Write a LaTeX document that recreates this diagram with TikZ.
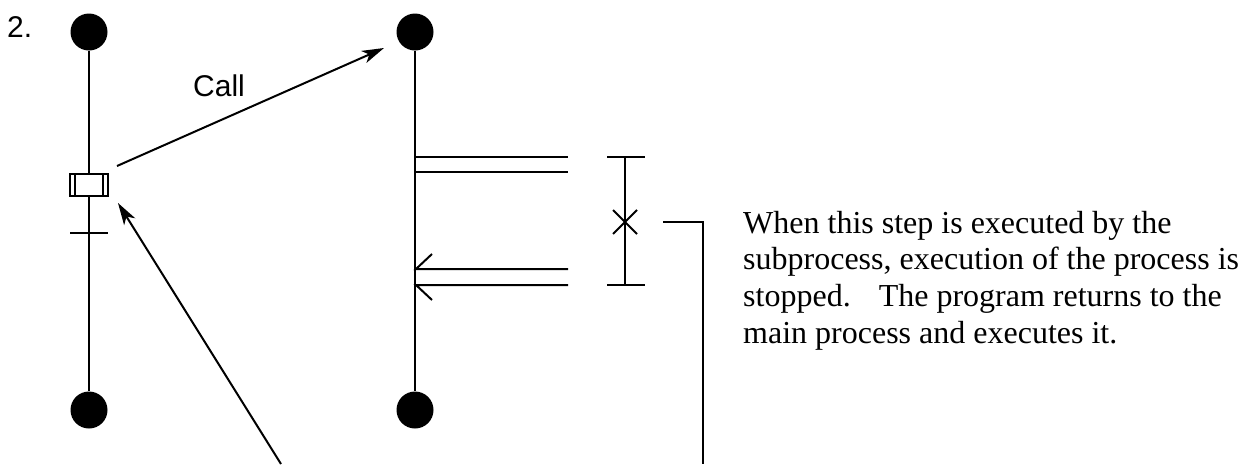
\documentclass[tikz,border=0pt]{standalone}
\usepackage{fontspec}
\setmainfont{Liberation Serif}
\newfontfamily\arialfont{Liberation Sans}
\usetikzlibrary{arrows.meta}
\begin{document}
\begin{tikzpicture}[x=1pt,y=-1pt,
  ln/.style={line width=2pt,line cap=butt},
  dot/.style={circle,fill=black,inner sep=0pt,minimum size=37pt},
  arr/.style={ln,-{Stealth[length=22pt,width=13pt,inset=6pt]}},
  lbl/.style={font=\arialfont\fontsize{30}{36}\selectfont,inner sep=0pt,anchor=base west}]
\useasboundingbox (0,0) rectangle (1249,464);
% labels
\node[lbl] (num) at (7,37) {2.};
\node[lbl] (call) at (193,96) {Call};
% main process
\node[dot] (t1) at (89,32) {};
\node[dot] (b1) at (89,410) {};
\node[draw,line width=2pt,minimum width=38pt,minimum height=22pt,inner sep=0pt] (box) at (89,185) {};
\draw[ln] (75,174) -- (75,196) (103,174) -- (103,196);
\draw[ln] (t1) -- (box.north);
\draw[ln] (box.south) -- (b1);
\draw[ln] (70,233) -- (108,233);
% subprocess
\node[dot] (t2) at (415,32) {};
\node[dot] (b2) at (415,410) {};
\draw[ln] (t2) -- (b2);
\draw[ln] (415,157) -- (568,157) (415,172) -- (568,172);
\draw[ln] (568,269) -- (416,269) -- (432,254);
\draw[ln] (568,285) -- (416,285) -- (432,300);
% bracket
\draw[ln] (607,157) -- (645,157) (607,285) -- (645,285) (625,157) -- (625,285);
\draw[ln] (613,210) -- (637,234) (613,234) -- (637,210);
\coordinate (xa) at (663,222);
\coordinate (xb) at (703,464);
\draw[ln] (xa) -| (xb);
% arrows
\coordinate (cs) at (117,166);
\coordinate (ce) at (384,48);
\draw[arr] (cs) -- (ce);
\coordinate (rs) at (281,464);
\coordinate (re) at (118,203);
\draw[arr] (rs) -- (re);
% text
\node[font=\fontsize{32}{36.6}\selectfont,align=left,anchor=base west,inner sep=0pt] (txt) at (743,343)
 {When this step is executed by the\\subprocess, execution of the process is\\stopped.\hspace{28pt}The program returns to the\\main process and executes it.};
\end{tikzpicture}
\end{document}
